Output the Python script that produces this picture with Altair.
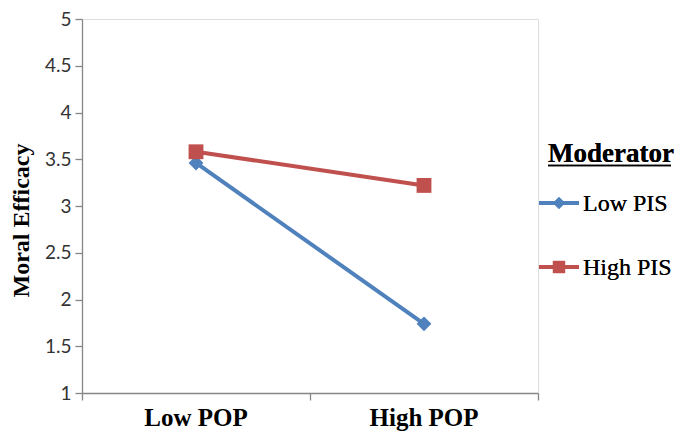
import altair as alt
import pandas as pd

# --- data ---
categories = ["Low POP", "High POP"]
cat_pos = [0.5, 1.5]
series = ["Low PIS", "High PIS"]
low_pis = [3.46, 1.74]
high_pis = [3.58, 3.22]
colors = ["#4F81BD", "#C0504D"]
shapes = ["diamond", "square"]
y_ticks = [1, 1.5, 2, 2.5, 3, 3.5, 4, 4.5, 5]
legend_title = "Moderator"

W, H = 456, 374

rows = []
for s, vals in zip(series, [low_pis, high_pis]):
    for c, p, v in zip(categories, cat_pos, vals):
        rows.append({"series": s, "cat": c, "pos": p, "value": v})
df = pd.DataFrame(rows)
lab_df = pd.DataFrame({"pos": cat_pos, "label": categories})

color_scale = alt.Scale(domain=series, range=colors)
shape_scale = alt.Scale(domain=series, range=shapes)

x_enc = alt.X("pos:Q", scale=alt.Scale(domain=[0, 2], nice=False),
              axis=alt.Axis(values=[0, 1, 2], labels=False, grid=False, title=None,
                            tickSize=7, domainColor="#868686", tickColor="#868686",
                            domainWidth=1.3, tickWidth=1.3))
y_enc = alt.Y("value:Q", scale=alt.Scale(domain=[1, 5], nice=False, zero=False),
              axis=alt.Axis(values=y_ticks, format=".1~f", grid=False,
                            title="Moral Efficacy", titleFont="Liberation Serif",
                            titleFontSize=24, titleFontWeight="bold", titleColor="black",
                            titleAngle=270, titleX=-61, titleY=201, titleAlign="center",
                            titleBaseline="middle",
                            labelFont="Lato", labelFontSize=19, labelColor="#333",
                            labelPadding=4, tickSize=7, domainColor="#868686",
                            tickColor="#868686", domainWidth=1.3, tickWidth=1.3))

lines = alt.Chart(df).mark_line(strokeWidth=4).encode(
    x=x_enc, y=y_enc,
    color=alt.Color("series:N", scale=color_scale, legend=None),
    detail="series:N",
)
points = alt.Chart(df).mark_point(filled=True, opacity=1, size=220).encode(
    x="pos:Q", y="value:Q",
    color=alt.Color("series:N", scale=color_scale, legend=None),
    shape=alt.Shape("series:N", scale=shape_scale, legend=None),
)
xlabels = alt.Chart(lab_df).mark_text(font="Liberation Serif", fontSize=25,
                                      fontWeight="bold", color="black",
                                      baseline="alphabetic").encode(
    x="pos:Q", y=alt.value(H + 33), text="label:N")

# --- legend (manual, Excel-style) ---
leg_layers = []
leg_layers.append(alt.Chart(lab_df).mark_text(
    text=legend_title, font="Liberation Serif", fontSize=27, fontWeight="bold",
    color="black", align="left", baseline="alphabetic").encode(
    x=alt.value(466), y=alt.value(143)))
leg_layers.append(alt.Chart(lab_df).mark_rule(color="black", strokeWidth=1.5).encode(
    x=alt.value(466), x2=alt.value(589), y=alt.value(146.5)))
for i, (s, c, sh) in enumerate(zip(series, colors, shapes)):
    yy = 184 + 64 * i
    leg_layers.append(alt.Chart(lab_df).mark_rule(color=c, strokeWidth=4).encode(
        x=alt.value(457), x2=alt.value(497), y=alt.value(yy)))
    leg_layers.append(alt.Chart(lab_df).mark_point(
        shape=sh, filled=True, opacity=1, color=c, size=150).encode(
        x=alt.value(477), y=alt.value(yy)))
    leg_layers.append(alt.Chart(lab_df).mark_text(
        text=s, font="Liberation Serif", fontSize=24, color="black",
        align="left", baseline="middle").encode(
        x=alt.value(501), y=alt.value(yy + 1)))

chart = alt.layer(lines, points, xlabels, *leg_layers).properties(
    width=W, height=H,
    autosize=alt.AutoSizeParams(type="none"),
    padding={"left": 74, "top": 11, "right": 139, "bottom": 39},
).configure_view(stroke=None).configure(background="white")

chart.save("out.html", embed_options={"renderer": "svg", "actions": False})
